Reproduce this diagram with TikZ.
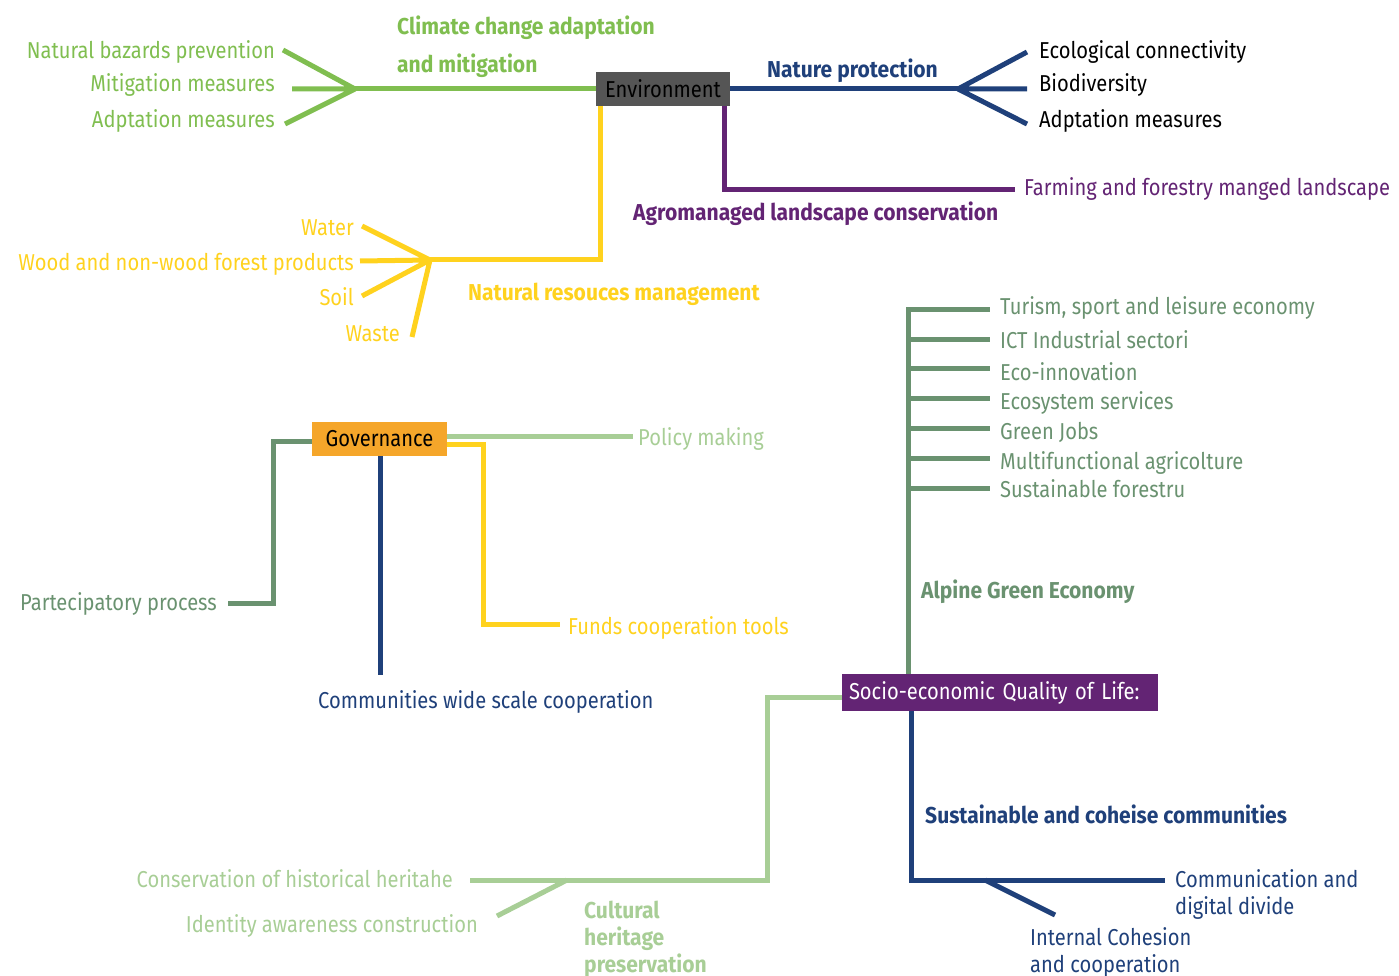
\documentclass[tikz,border=0pt]{standalone}
\usepackage{fontspec}
\setmainfont{Fira Sans}[FakeStretch=0.875, BoldFeatures={FakeStretch=0.915}]
\definecolor{cgreen}{RGB}{128,190,80}
\definecolor{cnavy}{RGB}{31,64,122}
\definecolor{cpurple}{RGB}{99,36,116}
\definecolor{cyellow}{RGB}{255,210,30}
\definecolor{csage}{RGB}{106,146,112}
\definecolor{cpale}{RGB}{168,206,150}
\definecolor{cgrey}{RGB}{85,85,85}
\definecolor{corange}{RGB}{245,166,42}
\begin{document}
\begin{tikzpicture}[x=1pt,y=-1pt,
  lbl/.style={inner sep=0, font=\fontsize{23}{27}\selectfont, align=left},
  head/.style={inner sep=0, font=\fontsize{23}{27}\selectfont\bfseries, align=left},
  conn/.style={line width=5pt},
  hub/.style={inner sep=0, font=\fontsize{23}{27}\selectfont}]
\useasboundingbox (0,0) rectangle (1399,976);

% ---------- Environment ----------
\node[hub, fill=cgrey, minimum width=134, minimum height=34] (env) at (663,89) {Environment};

% climate change branch
\coordinate (gfork) at (355,89);
\coordinate (g1) at (283,50);
\coordinate (g2) at (292,89);
\coordinate (g3) at (285,124);
\draw[conn, cgreen] (env.west) -- (gfork);
\draw[conn, cgreen] (gfork) -- (g1) (gfork) -- (g2) (gfork) -- (g3);
\node[head, text=cgreen, anchor=base west] (cc1) at (397,35) {Climate change adaptation};
\node[head, text=cgreen, anchor=base west] (cc2) at (397,73) {and mitigation};
\node[lbl, text=cgreen, anchor=base east] (nbp) at (275,59) {Natural bazards prevention};
\node[lbl, text=cgreen, anchor=base east] (mim) at (275,92) {Mitigation measures};
\node[lbl, text=cgreen, anchor=base east] (adm) at (275,128) {Adptation measures};

% nature protection branch
\coordinate (nfork) at (958,89);
\coordinate (n1) at (1027,52);
\coordinate (n2) at (1027,89);
\coordinate (n3) at (1027,124);
\draw[conn, cnavy] (env.east) -- (nfork);
\draw[conn, cnavy] (nfork) -- (n1) (nfork) -- (n2) (nfork) -- (n3);
\node[head, text=cnavy, anchor=base west] (np) at (767,78) {Nature protection};
\node[lbl, anchor=base west] (eco) at (1039,59) {Ecological connectivity};
\node[lbl, anchor=base west] (bio) at (1039,92) {Biodiversity};
\node[lbl, anchor=base west] (adm2) at (1039,128) {Adptation measures};

% agromanaged landscape branch
\coordinate (pend) at (1015,190);
\draw[conn, cpurple] ([xshift=-6]env.south east) |- (pend);
\node[lbl, text=cpurple, anchor=base west] (farm) at (1024,196) {Farming and forestry manged landscape};
\node[head, text=cpurple, anchor=base west] (agro) at (633,221) {Agromanaged landscape conservation};

% natural resources branch
\coordinate (yfork) at (430,260);
\coordinate (y1) at (362,226);
\coordinate (y2) at (360,261);
\coordinate (y3) at (362,296);
\coordinate (y4) at (412,337);
\draw[conn, cyellow] ([xshift=5]env.south west) |- (yfork);
\draw[conn, cyellow] (yfork) -- (y1) (yfork) -- (y2) (yfork) -- (y3) (yfork) -- (y4);
\node[lbl, text=cyellow, anchor=base east] (wat) at (354,236) {Water};
\node[lbl, text=cyellow, anchor=base east] (wood) at (354,270) {Wood and non-wood forest products};
\node[lbl, text=cyellow, anchor=base east] (soil) at (354,305) {Soil};
\node[lbl, text=cyellow, anchor=base east] (wst) at (400,341) {Waste};
\node[head, text=cyellow, anchor=base west] (nrm) at (468,300) {Natural resouces management};

% ---------- Socio-economic quality of life ----------
\node[hub, fill=cpurple, text=white, minimum height=37, text width=302, inner xsep=7, align=left] (soc) at (1000,692.5) {Socio-economic Quality of Life:};

% alpine green economy
\coordinate (aTop) at (908,307);
\draw[conn, csage] (soc.north -| aTop) -- (aTop);
\foreach \yy/\nm in {309/a1,339/a2,368/a3,398/a4,428/a5,458/a6,488/a7}{
  \coordinate (\nm s) at (908,\yy);
  \coordinate (\nm e) at (990,\yy);
  \draw[conn, csage] (\nm s) -- (\nm e);
}
\node[lbl, text=csage, anchor=base west] (t1) at (1000,314) {Turism, sport and leisure economy};
\node[lbl, text=csage, anchor=base west] (t2) at (1000,348) {ICT Industrial sectori};
\node[lbl, text=csage, anchor=base west] (t3) at (1000,380) {Eco-innovation};
\node[lbl, text=csage, anchor=base west] (t4) at (1000,409) {Ecosystem services};
\node[lbl, text=csage, anchor=base west] (t5) at (1000,439) {Green Jobs};
\node[lbl, text=csage, anchor=base west] (t6) at (1000,469) {Multifunctional agricolture};
\node[lbl, text=csage, anchor=base west] (t7) at (1000,497) {Sustainable forestru};
\node[head, text=csage, anchor=base west] (age) at (921,598) {Alpine Green Economy};

% sustainable communities
\coordinate (sTurn) at (911,880);
\coordinate (sEnd) at (1165,880);
\coordinate (sfork) at (985,880);
\coordinate (s2) at (1055,915);
\draw[conn, cnavy] (soc.south -| sTurn) |- (sEnd);
\draw[conn, cnavy] (sfork) -- (s2);
\node[head, text=cnavy, anchor=base west] (scc) at (925,823) {Sustainable and coheise communities};
% multi-line labels: base anchor sits on the last line
\node[lbl, text=cnavy, anchor=base west] (cdd) at (1175,914) {Communication and\\digital divide};
\node[lbl, text=cnavy, anchor=base west] (ich) at (1030,972) {Internal Cohesion\\and cooperation};

% cultural heritage
\coordinate (cTop) at (767,697);
\coordinate (cEnd) at (470,880);
\coordinate (cfork) at (567,880);
\coordinate (c2) at (497,916);
\draw[conn, cpale] (soc.west |- cTop) -- (cTop) |- (cEnd);
\draw[conn, cpale] (cfork) -- (c2);
\node[lbl, text=cpale, anchor=base east] (chh) at (453,887) {Conservation of historical heritahe};
\node[lbl, text=cpale, anchor=base east] (iac) at (478,932) {Identity awareness construction};
\node[head, text=cpale, anchor=base west] (chp) at (584,972) {Cultural\\heritage\\preservation};

% ---------- Governance ----------
\node[hub, fill=corange, minimum width=135, minimum height=34] (gov) at (379.5,439) {Governance};

\coordinate (pTop) at (273,441);
\coordinate (pEnd) at (228,603);
\draw[conn, csage] (gov.west |- pTop) -- (pTop) |- (pEnd);
\node[lbl, text=csage, anchor=base east] (pp) at (217,610) {Partecipatory process};

\coordinate (polEnd) at (633,436);
\draw[conn, cpale] (gov.east |- polEnd) -- (polEnd);
\node[lbl, text=cpale, anchor=base west] (pm) at (638,445) {Policy making};

\coordinate (fTop) at (483,444);
\coordinate (fEnd) at (560,624);
\draw[conn, cyellow] (gov.east |- fTop) -- (fTop) |- (fEnd);
\node[lbl, text=cyellow, anchor=base west] (fct) at (568,634) {Funds cooperation tools};

\coordinate (cBot) at (380,675);
\draw[conn, cnavy] (gov.south -| cBot) -- (cBot);
\node[lbl, text=cnavy, anchor=base west] (cwc) at (318,708) {Communities wide scale cooperation};
\end{tikzpicture}
\end{document}
